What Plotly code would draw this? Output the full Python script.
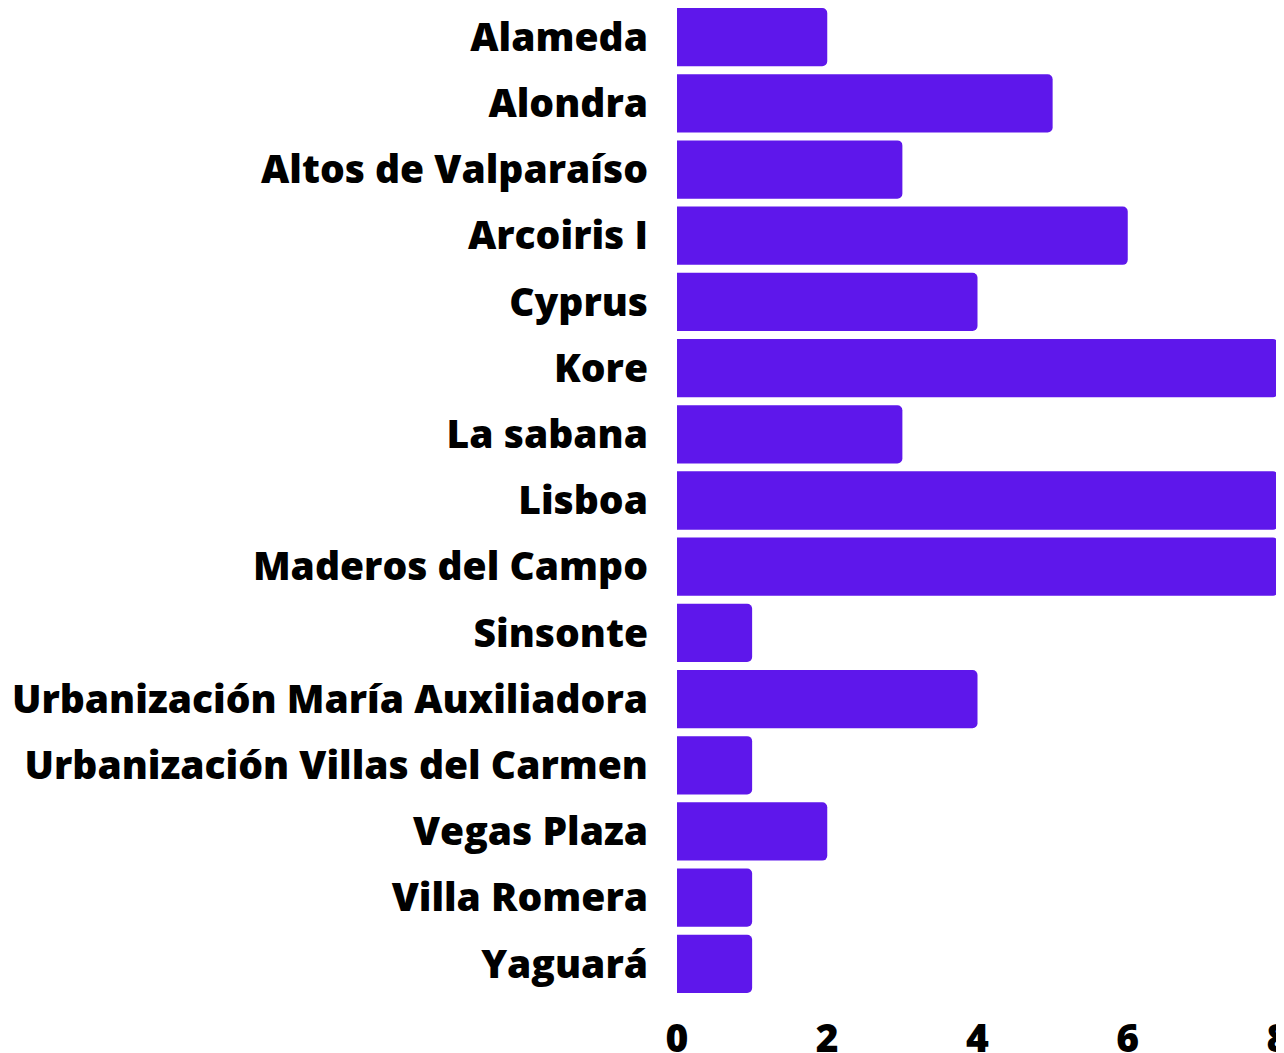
import plotly.graph_objects as go

categories = ["Alameda", "Alondra", "Altos de Valparaíso", "Arcoiris I", "Cyprus", "Kore",
              "La sabana", "Lisboa", "Maderos del Campo", "Sinsonte",
              "Urbanización María Auxiliadora", "Urbanización Villas del Carmen",
              "Vegas Plaza", "Villa Romera", "Yaguará"]
values = [2, 5, 3, 6, 4, 8, 3, 8, 8, 1, 4, 1, 2, 1, 1]
x_ticks = [0, 2, 4, 6, 8]

tick_font = dict(family="Open Sans", size=39, color="black", weight=800)
gap = 0.12

fig = go.Figure(go.Bar(x=values, y=categories, orientation="h",
                       marker=dict(color="#5E17EB", line=dict(width=0))))
fig.update_layout(
    width=1284, height=1053,
    margin=dict(l=669, r=14, t=0, b=68),
    plot_bgcolor="white", paper_bgcolor="white",
    bargap=gap, barcornerradius=5,
    font=tick_font,
    showlegend=False,
)
fig.update_xaxes(range=[0, 8], tickvals=x_ticks, showgrid=False, zeroline=False,
                 showline=False, ticklabelstandoff=19, automargin=False,
                 ticklabeloverflow="allow", tickfont=tick_font)
fig.update_yaxes(range=[len(categories) - 0.5 - gap / 2, -0.5 + gap / 2],
                 showgrid=False, showline=False,
                 ticklabelstandoff=28, automargin=False, tickfont=tick_font)
fig.write_html("out.html")
